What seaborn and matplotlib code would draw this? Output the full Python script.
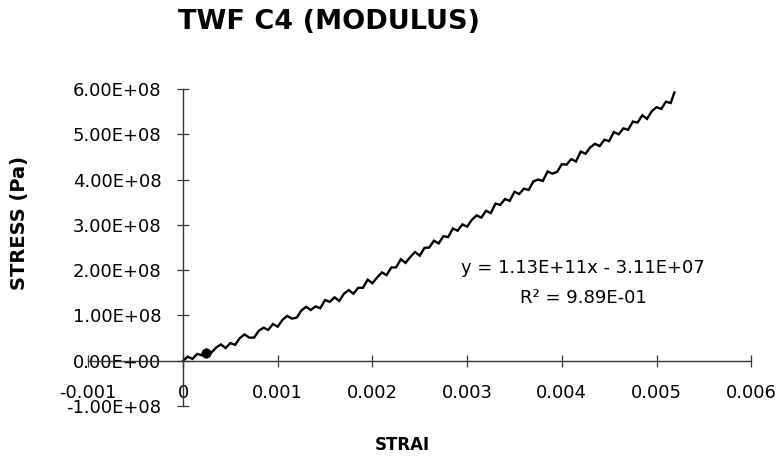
import numpy as np
import pandas as pd
import matplotlib
matplotlib.use("Agg")
import matplotlib.pyplot as plt
import seaborn as sns

# Tensile test record: strain (microstrain) and stress (MPa)
strain_micro = [0, 50, 100, 150, 200, 250, 300, 350, 400, 450,
                500, 550, 600, 650, 700, 750, 800, 850, 900, 950,
                1000, 1050, 1100, 1150, 1200, 1250, 1300, 1350, 1400, 1450,
                1500, 1550, 1600, 1650, 1700, 1750, 1800, 1850, 1900, 1950,
                2000, 2050, 2100, 2150, 2200, 2250, 2300, 2350, 2400, 2450,
                2500, 2550, 2600, 2650, 2700, 2750, 2800, 2850, 2900, 2950,
                3000, 3050, 3100, 3150, 3200, 3250, 3300, 3350, 3400, 3450,
                3500, 3550, 3600, 3650, 3700, 3750, 3800, 3850, 3900, 3950,
                4000, 4050, 4100, 4150, 4200, 4250, 4300, 4350, 4400, 4450,
                4500, 4550, 4600, 4650, 4700, 4750, 4800, 4850, 4900, 4950,
                5000, 5050, 5100, 5150, 5190]
stress_mpa = [0, 9, 4, 15, 12, 24, 18, 29, 36, 28,
              39, 35, 50, 58, 51, 51, 66, 73, 68, 81,
              75, 90, 99, 93, 95, 111, 119, 112, 120, 116,
              134, 130, 140, 132, 148, 156, 148, 161, 161, 179,
              171, 184, 195, 189, 206, 206, 224, 216, 229, 240,
              232, 249, 250, 265, 259, 275, 273, 292, 287, 301,
              296, 311, 321, 316, 331, 326, 347, 344, 357, 353,
              373, 368, 380, 377, 396, 400, 397, 418, 413, 417,
              434, 433, 445, 440, 462, 457, 471, 479, 474, 488,
              485, 505, 500, 513, 510, 528, 526, 542, 534, 551,
              560, 556, 572, 569, 593]

# Cluster of readings near the start of loading
cluster_strain_micro = [240]
cluster_stress_mpa = [16]

x_ticks = [-0.001, 0.0, 0.001, 0.002, 0.003, 0.004, 0.005, 0.006]
x_tick_labels = ["-0.001", "0", "0.001", "0.002", "0.003", "0.004", "0.005", "0.006"]
y_ticks = [-1e8, 0, 1e8, 2e8, 3e8, 4e8, 5e8, 6e8]

trend_text = "y = 1.13E+11x - 3.11E+07"
r2_text = "R\u00b2 = 9.89E-01"

df = pd.DataFrame({
    "strain": np.array(strain_micro) * 1e-6,
    "stress": np.array(stress_mpa) * 1e6,
})
cluster = pd.DataFrame({
    "strain": np.array(cluster_strain_micro) * 1e-6,
    "stress": np.array(cluster_stress_mpa) * 1e6,
})

sns.set_style("white")
plt.rcParams["font.family"] = ["DejaVu Sans"]
plt.rcParams.update({
    "text.color": "black",
    "axes.labelcolor": "black",
    "xtick.color": "black",
    "ytick.color": "black",
})

W, H = 778, 461
fig = plt.figure(figsize=(W / 100, H / 100), dpi=100)
left, right = 88.3, 751.2
top, bottom = 89.0, 406.0
ax = fig.add_axes([left / W, 1 - bottom / H, (right - left) / W, (bottom - top) / H])

sns.lineplot(data=df, x="strain", y="stress", sort=False, estimator=None,
             color="black", linewidth=1.7, ax=ax)
ax.lines[0].set_solid_joinstyle("miter")
sns.scatterplot(data=cluster, x="strain", y="stress", color="black",
                s=45, edgecolor="black", ax=ax, zorder=3)

ax.set_xlim(-0.001, 0.006)
ax.set_ylim(-1e8, 6e8)
ax.set_xticks(x_ticks)
ax.set_xticklabels(x_tick_labels)
ax.set_yticks(y_ticks)
ax.set_yticklabels(["{:.2E}".format(v) for v in y_ticks])
ax.set_xlabel("")
ax.set_ylabel("")

for side in ("top", "right"):
    ax.spines[side].set_visible(False)
ax.spines["left"].set_position(("data", 0.0))
ax.spines["bottom"].set_position(("data", 0.0))
for side in ("left", "bottom"):
    ax.spines[side].set_color("#333333")
    ax.spines[side].set_linewidth(1.0)

ax.tick_params(axis="x", bottom=True, direction="inout", length=8, width=0.9,
               color="#333333", labelsize=13, pad=13, labelcolor="black")
ax.tick_params(axis="y", left=True, direction="inout", length=8, width=0.9,
               color="#333333", labelsize=13, pad=11.5, labelcolor="black")
ax.grid(False)
ax.set_facecolor("white")

fig.text(329 / W, 1 - 22 / H, "TWF C4 (MODULUS)", ha="center", va="center",
         fontsize=19.5, fontweight="bold", color="black")
fig.text(20 / W, 1 - 223 / H, "STRESS (Pa)", ha="center", va="center",
         rotation=90, fontsize=14, fontweight="bold", color="black")
fig.text(402 / W, 1 - 445 / H, "STRAI", ha="center", va="center",
         fontsize=12, fontweight="bold", color="black")
fig.text(583 / W, 1 - 268 / H, trend_text, ha="center", va="center",
         fontsize=13, color="black")
fig.text(583 / W, 1 - 298 / H, r2_text, ha="center", va="center",
         fontsize=13, color="black")

fig.savefig("out.png", dpi=100, facecolor="white")
